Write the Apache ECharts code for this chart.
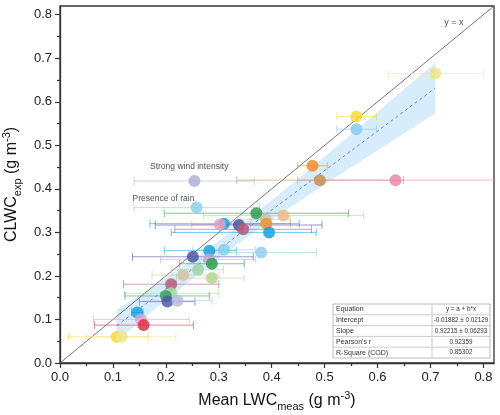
<!DOCTYPE html>
<html><head><meta charset="utf-8">
<script src="https://cdn.jsdelivr.net/npm/echarts@6/dist/echarts.min.js"></script>
<style>html,body{margin:0;padding:0;background:#fff}#c{width:500px;height:415px}</style>
</head><body><div id="c"></div>
<script>
// ---- data ----
var meanLWC = [0.709,0.560,0.560,0.477,0.491,0.634,0.254,0.258,0.371,0.422,0.389,0.390,0.310,0.302,0.338,0.346,0.395,0.282,0.310,0.380,0.251,0.282,0.287,0.261,0.233,0.287,0.210,0.210,0.200,0.203,0.222,0.146,0.153,0.158,0.107,0.117];
var clwcExp = [0.665,0.566,0.537,0.453,0.420,0.420,0.418,0.357,0.344,0.339,0.330,0.320,0.320,0.318,0.317,0.307,0.300,0.258,0.260,0.254,0.244,0.238,0.228,0.214,0.202,0.195,0.181,0.160,0.154,0.141,0.143,0.116,0.100,0.087,0.060,0.060];
var errLow  = [0.621,0.523,0.523,0.449,0.334,0.449,0.140,0.140,0.197,0.271,0.340,0.345,0.170,0.249,0.180,0.217,0.210,0.197,0.250,0.300,0.137,0.190,0.226,0.211,0.174,0.220,0.120,0.122,0.123,0.150,0.150,0.135,0.063,0.065,0.016,0.049];
var errHigh = [0.800,0.598,0.598,0.505,0.649,0.860,0.367,0.377,0.545,0.573,0.435,0.435,0.452,0.360,0.495,0.475,0.484,0.333,0.369,0.484,0.365,0.369,0.348,0.309,0.300,0.348,0.300,0.300,0.282,0.255,0.287,0.157,0.244,0.252,0.167,0.219];
var tickValues = [0,0.1,0.2,0.3,0.4,0.5,0.6,0.7,0.8];
var minorValues = [0.05,0.15,0.25,0.35,0.45,0.55,0.65,0.75];
var tableRows = [["Equation","y = a + b*x"],["Intercept","-0.01882 \u00b1 0.02129"],["Slope","0.92215 \u00b1 0.06293"],["Pearson's r","0.92359"],["R-Square (COD)","0.85302"]];
var notes = [["Strong wind intensity",0.170,0.451],["Presence of rain",0.137,0.378]];

// ---- styles ----
var colors = ['#eee48c','#f6dc3a','#86cdf0','#ee8f2a','#c98f55','#e98aa8','#b0b0d8','#8dd0f0','#2f9f50','#ebbb8a','#cfc3ab','#f0952d','#16a6df','#e8a0c0','#4a58a6','#b95b7a','#14a4dd','#1aa5e0','#8dcff0','#90d0f0','#4a5aa8','#c9a6cf','#2e9e4f','#9fd4a6','#d3c4a5','#b2d793','#bc5c78','#a5d8a5','#35a253','#4d5caa','#b8b8de','#1aa5e0','#d8a8d2','#e0303f','#f5da38','#f0e68c'];
var AX = 0.82;

// regression + 95% confidence band computed from the data
var n = meanLWC.length, sx=0, sy=0;
for (var i=0;i<n;i++){sx+=meanLWC[i];sy+=clwcExp[i];}
var xb=sx/n, yb=sy/n, Sxx=0, Sxy=0;
for (i=0;i<n;i++){Sxx+=(meanLWC[i]-xb)*(meanLWC[i]-xb);Sxy+=(meanLWC[i]-xb)*(clwcExp[i]-yb);}
var slope=Sxy/Sxx, icpt=yb-slope*xb, sse=0;
for (i=0;i<n;i++){var r=clwcExp[i]-(icpt+slope*meanLWC[i]);sse+=r*r;}
var sres=Math.sqrt(sse/(n-2)), tval=2.032;
var xmin=Math.min.apply(null,meanLWC), xmax=Math.max.apply(null,meanLWC);
var fitX=[]; for (i=0;i<=40;i++) fitX.push(xmin+(xmax-xmin)*i/40);
var upper=[], lower=[], fitLine=[];
fitX.forEach(function(x){var f=icpt+slope*x;var h=tval*sres*Math.sqrt(1/n+(x-xb)*(x-xb)/Sxx);upper.push([x,f+h]);lower.push([x,f-h]);});
fitLine=[[xmin,icpt+slope*xmin],[xmax,icpt+slope*xmax]];

var FONT='"Liberation Sans", Arial, sans-serif';
var chart = echarts.init(document.getElementById('c'));
var points = meanLWC.map(function(x,k){return {value:[x,clwcExp[k]],itemStyle:{color:colors[k],opacity:0.85}};});
var errData = meanLWC.map(function(x,k){return [x,clwcExp[k],errLow[k],errHigh[k],k];});

function axisCommon(){return {type:'value',min:0,max:AX,interval:0.1,
  axisLine:{show:true,lineStyle:{color:'#333',width:1.3}},
  axisTick:{show:true,inside:false,length:5,customValues:tickValues,lineStyle:{color:'#333',width:1.2}},
  axisLabel:{customValues:tickValues,fontFamily:FONT,fontSize:13,color:'#222',formatter:function(v){return v.toFixed(1);}},
  splitLine:{show:false}};}
function minorAxis(pos){return {type:'value',min:0,max:AX,position:pos,
  axisLine:{show:false},axisLabel:{show:false},splitLine:{show:false},
  axisTick:{show:true,length:3,customValues:minorValues,lineStyle:{color:'#333',width:1.2}}};}

var xa=axisCommon(); xa.position='bottom';
xa.name='{a|Mean LWC}{b|meas}{a| (g m}{c|-3}{a|)}'; xa.nameLocation='middle'; xa.nameGap=27;
xa.nameTextStyle={rich:{a:{fontFamily:FONT,fontSize:16,color:'#111',lineHeight:22,verticalAlign:'middle'},b:{fontFamily:FONT,fontSize:11,color:'#111',lineHeight:22,verticalAlign:'bottom'},c:{fontFamily:FONT,fontSize:11,color:'#111',lineHeight:22,verticalAlign:'top'}}};
var ya=axisCommon(); ya.position='left';
ya.name='{a|CLWC}{b|exp}{a| (g m}{c|-3}{a|)}'; ya.nameLocation='middle'; ya.nameGap=26;
ya.nameTextStyle={rich:xa.nameTextStyle.rich};

var option = {
  animation:false,
  grid:{left:60,top:6,width:434,height:357,outerBoundsMode:'none',containLabel:false,show:true,borderColor:'#333',borderWidth:1.3,backgroundColor:'transparent'},
  xAxis:[xa,minorAxis('bottom')],
  yAxis:[ya,minorAxis('left')],
  series:[
    {type:'custom',z:1,silent:true,clip:true,data:[0],renderItem:function(p,api){
      var pts=upper.map(function(d){return api.coord(d);}).concat(lower.slice().reverse().map(function(d){return api.coord(d);}));
      return {type:'polygon',shape:{points:pts},style:{fill:'#d4ebfb',opacity:0.9}};}},
    {type:'line',z:2,data:[[0,0],[AX,AX]],symbol:'none',lineStyle:{color:'#555',width:0.8},silent:true},
    {type:'line',z:3,data:fitLine,symbol:'none',lineStyle:{color:'#6f7ee6',width:1,type:[3,3]},silent:true},
    {type:'custom',z:4,clip:true,data:errData,renderItem:function(p,api){
      var y=api.value(1),lo=api.coord([api.value(2),y]),hi=api.coord([api.value(3),y]);
      var c=colors[api.value(4)],cap=4;
      var st={stroke:c,lineWidth:1,opacity:0.6};
      return {type:'group',children:[
        {type:'line',shape:{x1:lo[0],y1:lo[1],x2:hi[0],y2:hi[1]},style:st},
        {type:'line',shape:{x1:lo[0],y1:lo[1]-cap,x2:lo[0],y2:lo[1]+cap},style:st},
        {type:'line',shape:{x1:hi[0],y1:hi[1]-cap,x2:hi[0],y2:hi[1]+cap},style:st}]};}},
    {type:'scatter',z:5,symbol:'circle',symbolSize:12,data:points},
    {type:'scatter',z:6,symbolSize:0,silent:true,data:notes.map(function(t){return {value:[t[1],t[2]],label:{show:true,formatter:t[0],position:'right',distance:0,fontFamily:FONT,fontSize:8.5,color:'#222'}};})},
    {type:'scatter',z:6,symbolSize:0,silent:true,data:[{value:[0.744,0.783],label:{show:true,formatter:'y = x',position:'inside',fontFamily:FONT,fontSize:9,color:'#222'}}]}
  ],
  graphic:[]
};
// table
var tx=333, ty=304, tw=157, rh=10.8, c1=99;
var g=[{type:'rect',shape:{x:tx,y:ty,width:tw,height:rh*tableRows.length},style:{fill:'#fff',stroke:'#bbb',lineWidth:1},z:100},
       {type:'line',shape:{x1:tx+c1,y1:ty,x2:tx+c1,y2:ty+rh*tableRows.length},style:{stroke:'#ccc',lineWidth:1},z:101}];
tableRows.forEach(function(row,k){
  if(k>0) g.push({type:'line',shape:{x1:tx,y1:ty+rh*k,x2:tx+tw,y2:ty+rh*k},style:{stroke:'#ccc',lineWidth:1},z:101});
  g.push({type:'text',x:tx+3,y:ty+rh*k+rh/2,style:{text:row[0],fontFamily:FONT,fontSize:7,fill:'#333',verticalAlign:'middle',align:'left'},z:102});
  g.push({type:'text',x:tx+c1+(tw-c1)/2,y:ty+rh*k+rh/2,style:{text:row[1],fontFamily:FONT,fontSize:6.3,fill:'#333',verticalAlign:'middle',align:'center'},z:102});
});
option.graphic=g;
chart.setOption(option);
</script></body></html>
